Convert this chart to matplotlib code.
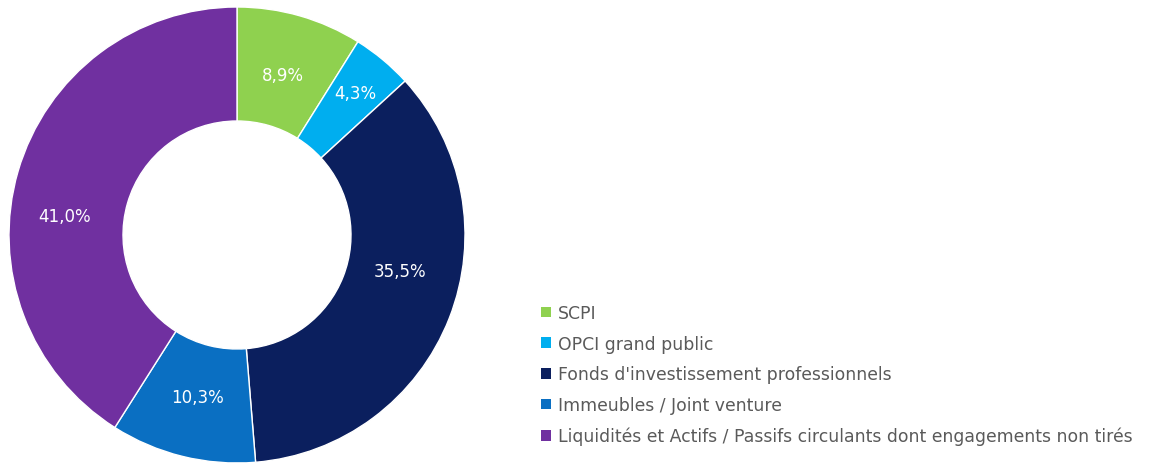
import numpy as np
import matplotlib.pyplot as plt
from matplotlib.patches import Patch

categories = ["SCPI", "OPCI grand public", "Fonds d'investissement professionnels",
              "Immeubles / Joint venture",
              "Liquidités et Actifs / Passifs circulants dont engagements non tirés"]
values = [8.9, 4.3, 35.5, 10.3, 41.0]
colors = ["#8fd14f", "#00aeef", "#0b1f5e", "#0a6fc2", "#7030a0"]

# label placement tweaks (angle offset in degrees, radial distance)
label_shift = [0, 0, 9, 0, 10]
label_dist = [0.73, 0.81, 0.73, 0.73, 0.76]

plt.rcParams['font.family'] = ['DejaVu Sans']

fig = plt.figure(figsize=(11.57, 4.64), dpi=100)
ax = fig.add_axes([(237 - 228) / 1157, (464 - 236 - 228) / 464, 456 / 1157, 456 / 464])


def fmt(pct):
    return "{:.1f}%".format(pct).replace(".", ",")


wedges, texts, autotexts = ax.pie(values, colors=colors, startangle=90, counterclock=False,
                                  radius=1, autopct=fmt, pctdistance=0.74,
                                  wedgeprops=dict(width=0.5, edgecolor="white", linewidth=1),
                                  textprops=dict(color="white", fontsize=12))
for w, t, sh, d in zip(wedges, autotexts, label_shift, label_dist):
    ang = np.deg2rad((w.theta1 + w.theta2) / 2 + sh)
    t.set_position((d * np.cos(ang), d * np.sin(ang)))

ax.set_xlim(-1, 1)
ax.set_ylim(-1, 1)
ax.set_aspect("equal")

handles = [Patch(facecolor=c, edgecolor="none") for c in colors]
fig.legend(handles, categories, loc="upper left", bbox_to_anchor=(541 / 1157, 1 - 305 / 464),
           frameon=False, handlelength=0.57, handleheight=0.57, handletextpad=0.4,
           labelspacing=0.74, fontsize=12.4, labelcolor="#5a5a5a", borderpad=0,
           borderaxespad=0)

fig.savefig("out.png", dpi=100, facecolor="white")
